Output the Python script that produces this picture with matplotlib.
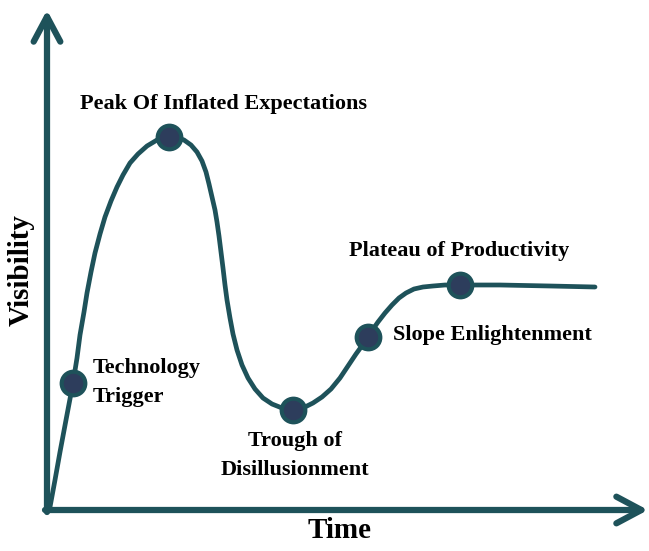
import matplotlib.pyplot as plt

# hype cycle curve (time, visibility)
time_pts = [3, 8, 13, 19, 26, 30, 33, 37, 40, 44, 48, 53, 58, 64, 70, 76, 83, 91, 100,
            110, 120, 129, 137, 144, 150, 155, 159, 162, 165, 168, 170, 172, 174, 176,
            178, 180, 183, 186, 190, 195, 201, 208, 216, 225, 235, 246, 256, 266, 275,
            284, 293, 301, 309, 317, 324, 331, 338, 345, 352, 359, 367, 376, 386, 398,
            413, 453, 503, 548]
vis_pts = [3, 30, 58, 90, 127, 152, 175, 198, 217, 238, 257, 276, 293, 309, 323, 335,
           347, 356, 364, 370, 373, 373, 370, 365, 358, 349, 338, 326, 313, 300, 288,
           274, 258, 242, 225, 210, 192, 176, 160, 145, 132, 121, 112, 106, 102, 100,
           102, 107, 113, 121, 132, 144, 156, 167, 178, 188, 197, 205, 212, 217, 221,
           223, 224, 225, 225, 225, 224, 223]

# highlighted phases
phase_time = [26, 122, 246, 321, 413]
phase_vis = [127, 373, 100, 173, 225]

line_col = '#1e525a'
dot_col = '#2d3d5c'

plt.rcParams['font.family'] = ['Liberation Serif', 'DejaVu Serif']

fig = plt.figure(figsize=(6.49, 5.51), dpi=100)
ax = fig.add_axes([0, 0, 1, 1])
ax.set_xlim(-47, 602)
ax.set_ylim(-41, 510)
ax.axis('off')

# axes arrows
arrow = dict(arrowstyle='->,head_length=0.6,head_width=0.32', lw=4.5, color=line_col,
             mutation_scale=30, capstyle='round', joinstyle='round', shrinkA=0, shrinkB=0)
ax.annotate('', xy=(0, 500), xytext=(0, -2), arrowprops=arrow)
ax.annotate('', xy=(601, 0), xytext=(-2, 0), arrowprops=arrow)

# curve and points
ax.plot(time_pts, vis_pts, color=line_col, lw=3.4, solid_capstyle='round',
        solid_joinstyle='round', zorder=3)
ax.plot(phase_time, phase_vis, 'o', ms=17, mfc=dot_col, mec=line_col, mew=3, zorder=4)

# labels
fs = 16
ax.text(33, 406, 'Peak Of Inflated Expectations', fontsize=fs, fontweight='bold', va='center')
ax.text(46, 142, 'Technology', fontsize=fs, fontweight='bold', va='center')
ax.text(46, 113, 'Trigger', fontsize=fs, fontweight='bold', va='center')
ax.text(248, 69, 'Trough of', fontsize=fs, fontweight='bold', va='center', ha='center')
ax.text(248, 40, 'Disillusionment', fontsize=fs, fontweight='bold', va='center', ha='center')
ax.text(302, 259, 'Plateau of Productivity', fontsize=fs, fontweight='bold', va='center')
ax.text(346, 175, 'Slope Enlightenment', fontsize=fs, fontweight='bold', va='center')

ax.text(293, -20, 'Time', fontsize=21, fontweight='bold', va='center', ha='center')
ax.text(-26, 240, 'Visibility', fontsize=21, fontweight='bold', va='center', ha='center',
        rotation=90)

plt.savefig('out.png', dpi=100)
